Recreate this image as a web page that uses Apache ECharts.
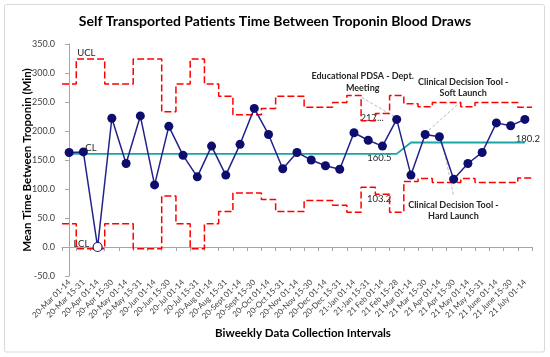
<!DOCTYPE html>
<html>
<head>
<meta charset="utf-8">
<script src="https://cdn.jsdelivr.net/npm/echarts@6/dist/echarts.min.js"></script>
<style>
html,body{margin:0;padding:0;background:#fff;}
#chart{width:550px;height:357px;}
</style>
</head>
<body>
<div id="chart"></div>
<script>
const categories = ['20-Mar 01-14','20-Mar 15-31','20-Apr 01-14','20-Apr 15-30','20-May 01-14','20-May 15-31','20-Jun 01-14','20-Jun 15-30','20-Jul 01-14','20-Jul 15-31','20-Aug 01-14','20-Aug 15-31','20-Sept 01-14','20-Sept 15-30','20-Oct 01-14','20-Oct 15-31','20-Nov 01-14','20-Nov 15-30','20-Dec 01-14','20-Dec 15-31','21-Jan 01-14','21-Jan 15-31','21 Feb 01-14','21 Feb 15-28','21 Mar 01-14','21 Mar 15-30','21 Apr 01-14','21 Apr 15-30','21 May 01-14','21 May 15-31','21 June 01-14','21 June 15-30','21 July 01-14'];
const meanTime = [163,164,0,222,144,226,107,208,158,121,174,124,177,239,194,135,163,150,140,134,197,184,174,220,124,194,190,117,144,163,214,209,220];
const centerLine = [160.5,160.5,160.5,160.5,160.5,160.5,160.5,160.5,160.5,160.5,160.5,160.5,160.5,160.5,160.5,160.5,160.5,160.5,160.5,160.5,160.5,160.5,160.5,160.5,180.2,180.2,180.2,180.2,180.2,180.2,180.2,180.2,180.2];
const ucl = [281,324,324,281,281,324,324,233,281,324,281,260,228,228,239,260,260,241,241,249,261,217.8,230,261,247,242,249,249,242,249,249,249,241];
const lcl = [40,-3,-3,40,40,-3,-3,88,40,-3,40,61,93,93,82,61,61,80,80,72,60,103.2,91,60,113,118,111,111,118,111,111,111,119];
const yMin = -50, yMax = 350, yStep = 50;
const titleText = 'Self Transported Patients Time Between Troponin Blood Draws';
const xName = 'Biweekly Data Collection Intervals';
const yName = 'Mean Time Between Troponin (Min)';

const FONT = 'Lato';
const stepData = arr => {
  const out = [];
  arr.forEach((v, i) => { out.push([i - 0.5, v]); out.push([i + 0.5, v]); });
  return out;
};
const pointData = meanTime.map((v, i) => i === 2
  ? {value: v, itemStyle: {color: '#ffffff', borderColor: '#1b1b7a', borderWidth: 1.2}}
  : v);

const chart = echarts.init(document.getElementById('chart'), null, {renderer: 'canvas'});
const axisGray = '#a6a6a6';
chart.setOption({
  animation: false,
  backgroundColor: '#ffffff',
  grid: {left: 62, right: 18, top: 44, bottom: 81, containLabel: false},
  xAxis: [{
    type: 'category', data: categories, boundaryGap: true,
    axisLine: {lineStyle: {color: axisGray}},
    axisTick: {show: true, length: 4, lineStyle: {color: axisGray}},
    axisLabel: {interval: 0, rotate: 45, fontSize: 8, color: '#404040', fontFamily: FONT, margin: 5}
  }, {
    type: 'value', min: -0.5, max: categories.length - 0.5, show: false
  }],
  yAxis: {
    type: 'value', min: yMin, max: yMax, interval: yStep,
    axisLine: {show: true, lineStyle: {color: axisGray}},
    axisTick: {show: true, length: 4, lineStyle: {color: axisGray}},
    splitLine: {show: false},
    axisLabel: {fontSize: 9, color: '#404040', fontFamily: FONT, margin: 7, formatter: v => v.toFixed(1)}
  },
  series: [
    {name: 'UCL', type: 'line', xAxisIndex: 1, data: stepData(ucl), symbol: 'none',
     lineStyle: {color: '#ff0000', width: 1.5, type: [7, 3]}},
    {name: 'LCL', type: 'line', xAxisIndex: 1, data: stepData(lcl), symbol: 'none',
     lineStyle: {color: '#ff0000', width: 1.5, type: [7, 3]}},
    {name: 'CL', type: 'line', data: centerLine, symbol: 'none',
     lineStyle: {color: '#1aa5a5', width: 1.8}},
    {name: 'Mean', type: 'line', data: pointData, symbol: 'circle', symbolSize: 9,
     lineStyle: {color: '#22228a', width: 1.5},
     itemStyle: {color: '#0d0d6e'}, z: 5}
  ]
});

const px = (i, v) => chart.convertToPixel({xAxisIndex: 0, yAxisIndex: 0}, [i, v]);
const txt = (x, y, s, opts) => Object.assign({
  type: 'text', x: x, y: y, silent: true,
  style: Object.assign({text: s, fill: '#262626', fontFamily: FONT, fontSize: 9.5, align: 'center', verticalAlign: 'middle'}, opts || {})
});
const line = (a, b) => ({type: 'line', silent: true, shape: {x1: a[0], y1: a[1], x2: b[0], y2: b[1]},
  style: {stroke: '#a6a6a6', lineWidth: 0.8, lineDash: [3, 2]}});

const pU = px(1, ucl[1]);
const pC = px(1, centerLine[1]);
const pL = px(1, lcl[1]);
const pCL1 = px(22, centerLine[22]);
const pCL2 = px(32, centerLine[32]);
const pU21 = px(21, ucl[21]);
const pL21 = px(21, lcl[21]);
const p23 = px(23, meanTime[23]);
const p25 = px(25, meanTime[25]);
const p26 = px(26, meanTime[26]);
const bold = {fontWeight: 'bold', fill: '#262626', fontSize: 9};

chart.setOption({graphic: [
  {type: 'rect', shape: {x: 4.5, y: 4.5, width: 540, height: 347.5, r: 2}, style: {fill: 'none', stroke: '#d9d9d9', lineWidth: 1}, silent: true},
  txt(275, 21, titleText, {fontWeight: 'bold', fontSize: 14, fill: '#000000'}),
  txt(303, 333, xName, {fontWeight: 'bold', fontSize: 11.5, fill: '#000000'}),
  {type: 'text', x: 27, y: 160, rotation: Math.PI / 2, silent: true,
   style: {text: yName, fontFamily: FONT, fontWeight: 'bold', fontSize: 11.5, fill: '#000000', align: 'center', verticalAlign: 'middle'}},
  txt(pU[0] + 3, pU[1] - 6, 'UCL', {fontSize: 9.5}),
  txt(pC[0] + 2, pC[1] - 6, 'CL', {fontSize: 9.5, align: 'left'}),
  txt(pL[0] - 2, pL[1] - 5, 'LCL', {fontSize: 9.5}),
  txt(pCL1[0] - 3, pCL1[1] + 4, '160.5', {fontSize: 9.5}),
  txt(pCL2[0] + 3, pCL2[1] - 4, '180.2', {fontSize: 9.5}),
  txt(pU21[0] + 4, pU21[1] - 3, '217...', {fontSize: 9.5}),
  txt(pL21[0] + 11, pL21[1] + 12, '103.2', {fontSize: 9.5}),
  line([p23[0] - 35, p23[1] - 22], [p23[0] - 1, p23[1] - 2]),
  txt(p23[0] - 34, p23[1] - 43, 'Educational PDSA - Dept.', bold),
  txt(p23[0] - 34, p23[1] - 31, 'Meeting', bold),
  line([p25[0] + 36, p25[1] - 33], [p25[0] + 2, p25[1] - 3]),
  txt(p25[0] + 38, p25[1] - 52, 'Clinical Decision Tool -', bold),
  txt(p25[0] + 38, p25[1] - 41, 'Soft Launch', bold),
  line([p26[0] + 2, p26[1] + 1], [p26[0] + 14, p26[1] + 58]),
  txt(p26[0] + 14, p26[1] + 68, 'Clinical Decision Tool -', bold),
  txt(p26[0] + 14, p26[1] + 79, 'Hard Launch', bold)
]});
</script>
</body>
</html>
